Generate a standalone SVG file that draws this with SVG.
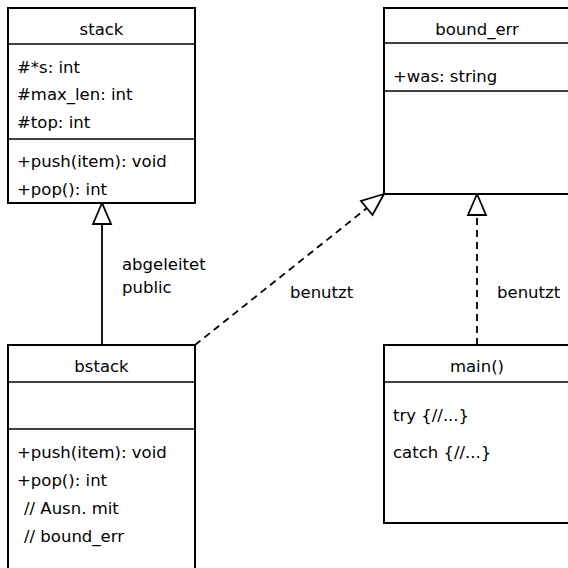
<svg xmlns="http://www.w3.org/2000/svg" width="568" height="568" viewBox="0 0 568 568">
<style>
.box{fill:#fff;stroke:#000;stroke-width:2}
.div{stroke:#000;stroke-width:1.6}
text{font-family:"DejaVu Sans","Liberation Sans",sans-serif;font-size:16.5px;fill:#000}
.c{text-anchor:middle}
.ln{stroke:#000;stroke-width:1.8;fill:none}
.dash{stroke-dasharray:7 5}
.head{fill:#fff;stroke:#000;stroke-width:1.8}
</style>
<rect width="568" height="568" fill="#fff"/>
<g id="connectors">
<line class="ln" x1="102" y1="345" x2="102" y2="224"/>
<polygon class="head" points="102,203 93,224 111,224"/>
<line class="ln dash" x1="195" y1="345" x2="367" y2="208"/>
<polygon class="head" points="384,194 361,201 372.5,215"/>
<line class="ln dash" x1="477" y1="345" x2="477" y2="215"/>
<polygon class="head" points="477,194 468,215 486,215"/>
<text x="122" y="270">abgeleitet</text>
<text x="122" y="293">public</text>
<text x="290" y="298">benutzt</text>
<text x="497" y="298">benutzt</text>
</g>
<g id="stack">
<rect class="box" x="8" y="8" width="187" height="195"/>
<line class="div" x1="8" y1="44" x2="195" y2="44"/>
<line class="div" x1="8" y1="139" x2="195" y2="139"/>
<text class="c" x="101.5" y="35">stack</text>
<text x="17" y="73">#*s: int</text>
<text x="17" y="100">#max_len: int</text>
<text x="17" y="128">#top: int</text>
<text x="17" y="167">+push(item): void</text>
<text x="17" y="195">+pop(): int</text>
</g>
<g id="bound_err">
<rect class="box" x="384" y="8" width="190" height="186"/>
<line class="div" x1="384" y1="43" x2="574" y2="43"/>
<line class="div" x1="384" y1="91" x2="574" y2="91"/>
<text class="c" x="477" y="35">bound_err</text>
<text x="393" y="82">+was: string</text>
</g>
<g id="bstack">
<rect class="box" x="8" y="345" width="187" height="230"/>
<line class="div" x1="8" y1="382" x2="195" y2="382"/>
<line class="div" x1="8" y1="429" x2="195" y2="429"/>
<text class="c" x="101.5" y="372">bstack</text>
<text x="17" y="458">+push(item): void</text>
<text x="17" y="486">+pop(): int</text>
<text x="24" y="514">// Ausn. mit</text>
<text x="24" y="542">// bound_err</text>
</g>
<g id="main">
<rect class="box" x="384" y="345" width="190" height="178"/>
<line class="div" x1="384" y1="382" x2="574" y2="382"/>
<text class="c" x="477" y="372">main()</text>
<text x="393" y="421">try {//...}</text>
<text x="393" y="458">catch {//...}</text>
</g>
</svg>
